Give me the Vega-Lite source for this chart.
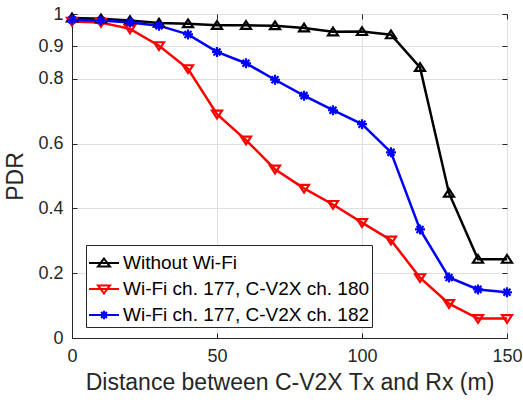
{
  "$schema": "https://vega.github.io/schema/vega-lite/v6.json",
  "width": 435,
  "height": 324,
  "autosize": "none",
  "padding": {"left": 72, "top": 14, "right": 16, "bottom": 68},
  "config": {
    "font": "Liberation Sans",
    "view": {"stroke": "#262626", "strokeWidth": 1},
    "axis": {
      "domainColor": "#262626",
      "tickColor": "#262626",
      "labelColor": "#262626",
      "titleColor": "#262626",
      "labelFontSize": 18,
      "titleFontSize": 23,
      "titleFontWeight": "normal",
      "gridColor": "#e0e0e0",
      "gridWidth": 1,
      "tickSize": -5,
      "labelFont": "Liberation Sans",
      "titleFont": "Liberation Sans"
    },
    "legend": {
      "orient": "none",
      "legendX": 14,
      "legendY": 231,
      "strokeColor": "#262626",
      "fillColor": "white",
      "padding": 2,
      "labelFontSize": 19,
      "labelColor": "#000000",
      "labelFont": "Liberation Sans",
      "labelLimit": 400,
      "symbolSize": 900,
      "symbolStrokeWidth": 2,
      "labelOffset": 3,
      "rowPadding": 0
    }
  },
  "data": {
    "values": [
      {"x": 0, "pdr": 0.988, "s": "Without Wi-Fi"},
      {"x": 10, "pdr": 0.985, "s": "Without Wi-Fi"},
      {"x": 20, "pdr": 0.98, "s": "Without Wi-Fi"},
      {"x": 30, "pdr": 0.972, "s": "Without Wi-Fi"},
      {"x": 40, "pdr": 0.97, "s": "Without Wi-Fi"},
      {"x": 50, "pdr": 0.965, "s": "Without Wi-Fi"},
      {"x": 60, "pdr": 0.965, "s": "Without Wi-Fi"},
      {"x": 70, "pdr": 0.964, "s": "Without Wi-Fi"},
      {"x": 80, "pdr": 0.957, "s": "Without Wi-Fi"},
      {"x": 90, "pdr": 0.945, "s": "Without Wi-Fi"},
      {"x": 100, "pdr": 0.946, "s": "Without Wi-Fi"},
      {"x": 110, "pdr": 0.936, "s": "Without Wi-Fi"},
      {"x": 120, "pdr": 0.835, "s": "Without Wi-Fi"},
      {"x": 130, "pdr": 0.447, "s": "Without Wi-Fi"},
      {"x": 140, "pdr": 0.243, "s": "Without Wi-Fi"},
      {"x": 150, "pdr": 0.243, "s": "Without Wi-Fi"},
      {"x": 0, "pdr": 0.977, "s": "Wi-Fi ch. 177, C-V2X ch. 180"},
      {"x": 10, "pdr": 0.974, "s": "Wi-Fi ch. 177, C-V2X ch. 180"},
      {"x": 20, "pdr": 0.954, "s": "Wi-Fi ch. 177, C-V2X ch. 180"},
      {"x": 30, "pdr": 0.902, "s": "Wi-Fi ch. 177, C-V2X ch. 180"},
      {"x": 40, "pdr": 0.831, "s": "Wi-Fi ch. 177, C-V2X ch. 180"},
      {"x": 50, "pdr": 0.691, "s": "Wi-Fi ch. 177, C-V2X ch. 180"},
      {"x": 60, "pdr": 0.611, "s": "Wi-Fi ch. 177, C-V2X ch. 180"},
      {"x": 70, "pdr": 0.521, "s": "Wi-Fi ch. 177, C-V2X ch. 180"},
      {"x": 80, "pdr": 0.462, "s": "Wi-Fi ch. 177, C-V2X ch. 180"},
      {"x": 90, "pdr": 0.412, "s": "Wi-Fi ch. 177, C-V2X ch. 180"},
      {"x": 100, "pdr": 0.356, "s": "Wi-Fi ch. 177, C-V2X ch. 180"},
      {"x": 110, "pdr": 0.302, "s": "Wi-Fi ch. 177, C-V2X ch. 180"},
      {"x": 120, "pdr": 0.186, "s": "Wi-Fi ch. 177, C-V2X ch. 180"},
      {"x": 130, "pdr": 0.106, "s": "Wi-Fi ch. 177, C-V2X ch. 180"},
      {"x": 140, "pdr": 0.06, "s": "Wi-Fi ch. 177, C-V2X ch. 180"},
      {"x": 150, "pdr": 0.06, "s": "Wi-Fi ch. 177, C-V2X ch. 180"},
      {"x": 0, "pdr": 0.982, "s": "Wi-Fi ch. 177, C-V2X ch. 182"},
      {"x": 10, "pdr": 0.98, "s": "Wi-Fi ch. 177, C-V2X ch. 182"},
      {"x": 20, "pdr": 0.974, "s": "Wi-Fi ch. 177, C-V2X ch. 182"},
      {"x": 30, "pdr": 0.964, "s": "Wi-Fi ch. 177, C-V2X ch. 182"},
      {"x": 40, "pdr": 0.937, "s": "Wi-Fi ch. 177, C-V2X ch. 182"},
      {"x": 50, "pdr": 0.883, "s": "Wi-Fi ch. 177, C-V2X ch. 182"},
      {"x": 60, "pdr": 0.848, "s": "Wi-Fi ch. 177, C-V2X ch. 182"},
      {"x": 70, "pdr": 0.797, "s": "Wi-Fi ch. 177, C-V2X ch. 182"},
      {"x": 80, "pdr": 0.748, "s": "Wi-Fi ch. 177, C-V2X ch. 182"},
      {"x": 90, "pdr": 0.703, "s": "Wi-Fi ch. 177, C-V2X ch. 182"},
      {"x": 100, "pdr": 0.66, "s": "Wi-Fi ch. 177, C-V2X ch. 182"},
      {"x": 110, "pdr": 0.573, "s": "Wi-Fi ch. 177, C-V2X ch. 182"},
      {"x": 120, "pdr": 0.335, "s": "Wi-Fi ch. 177, C-V2X ch. 182"},
      {"x": 130, "pdr": 0.187, "s": "Wi-Fi ch. 177, C-V2X ch. 182"},
      {"x": 140, "pdr": 0.15, "s": "Wi-Fi ch. 177, C-V2X ch. 182"},
      {"x": 150, "pdr": 0.141, "s": "Wi-Fi ch. 177, C-V2X ch. 182"}
    ]
  },
  "layer": [
    {
      "mark": {"type": "line", "strokeWidth": 2.5},
      "encoding": {
        "x": {
          "field": "x", "type": "quantitative",
          "scale": {"domain": [0, 150], "nice": false, "zero": false},
          "axis": {"values": [0, 50, 100, 150], "title": "Distance between C-V2X Tx and Rx (m)", "labelPadding": 14, "titlePadding": 6, "labelFlush": false}
        },
        "y": {
          "field": "pdr", "type": "quantitative",
          "scale": {"domain": [0, 1], "nice": false},
          "axis": {"values": [0, 0.2, 0.4, 0.6, 0.8, 0.9, 1], "labelExpr": "'' + datum.value", "title": "PDR", "labelPadding": 14, "titlePadding": 10, "labelFlush": false}
        },
        "color": {
          "field": "s", "type": "nominal",
          "scale": {"domain": ["Without Wi-Fi", "Wi-Fi ch. 177, C-V2X ch. 180", "Wi-Fi ch. 177, C-V2X ch. 182"], "range": ["#000000", "#ff0000", "#0000ff"]},
          "legend": null
        }
      }
    },
    {
      "mark": {"type": "point", "filled": false, "strokeWidth": 2.2, "size": 100, "opacity": 1},
      "encoding": {
        "x": {
          "field": "x", "type": "quantitative",
          "axis": {"orient": "top", "values": [0, 50, 100, 150], "labels": false, "title": null, "grid": false, "domain": false}
        },
        "y": {
          "field": "pdr", "type": "quantitative",
          "axis": {"orient": "right", "values": [0, 0.2, 0.4, 0.6, 0.8, 0.9, 1], "labels": false, "title": null, "grid": false, "domain": false}
        },
        "color": {
          "field": "s", "type": "nominal",
          "scale": {"domain": ["Without Wi-Fi", "Wi-Fi ch. 177, C-V2X ch. 180", "Wi-Fi ch. 177, C-V2X ch. 182"], "range": ["#000000", "#ff0000", "#0000ff"]},
          "legend": null
        },
        "shape": {
          "field": "s", "type": "nominal",
          "scale": {"domain": ["Without Wi-Fi", "Wi-Fi ch. 177, C-V2X ch. 180", "Wi-Fi ch. 177, C-V2X ch. 182"], "range": ["M0,-0.85L1,0.7L-1,0.7Z", "M0,0.85L1,-0.7L-1,-0.7Z", "M-1,0H1M0,-1V1M-0.7,-0.7L0.7,0.7M-0.7,0.7L0.7,-0.7"]},
          "legend": null
        }
      }
    },
    {
      "transform": [{"filter": "datum.x < 0"}],
      "mark": {"type": "point", "filled": false, "strokeWidth": 2, "opacity": 1},
      "encoding": {
        "x": {"field": "x", "type": "quantitative", "axis": null},
        "y": {"field": "pdr", "type": "quantitative", "axis": null},
        "color": {
          "field": "s", "type": "nominal",
          "scale": {"domain": ["Without Wi-Fi", "Wi-Fi ch. 177, C-V2X ch. 180", "Wi-Fi ch. 177, C-V2X ch. 182"], "range": ["#000000", "#ff0000", "#0000ff"]},
          "legend": {"title": null}
        },
        "shape": {
          "field": "s", "type": "nominal",
          "scale": {"domain": ["Without Wi-Fi", "Wi-Fi ch. 177, C-V2X ch. 180", "Wi-Fi ch. 177, C-V2X ch. 182"], "range": ["M-1,0H1M0,-0.3L0.4,0.24L-0.4,0.24Z", "M-1,0H1M0,0.3L0.4,-0.24L-0.4,-0.24Z", "M-1,0H1M-0.28,0H0.28M0,-0.28V0.28M-0.2,-0.2L0.2,0.2M-0.2,0.2L0.2,-0.2"]},
          "legend": {"title": null}
        }
      }
    }
  ],
  "resolve": {
    "scale": {"color": "independent", "shape": "independent"},
    "axis": {"x": "independent", "y": "independent"}
  }
}
